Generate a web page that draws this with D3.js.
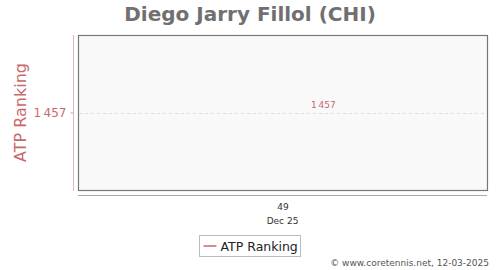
<!doctype html>
<html lang="en">
  <head>
    <meta charset="utf-8">
    <title>Diego Jarry Fillol (CHI)</title>
    <style>
    body { margin: 0; background: #fff; }
    text { font-family: "DejaVu Sans", sans-serif; }
    .y-axis path, .x-axis path { display: none; }
    </style>
  </head>
  <body>
    <div id="content"></div>

    <script src="https://d3js.org/d3.v7.min.js"></script>
    <script type="text/javascript">
    var w = 500;
    var h = 270;

    var playerTitle = 'Diego Jarry Fillol (CHI)';
    var weeks = [49.2];          // ranking week (x position of the point)
    var rankings = [1457];       // ATP ranking values
    var weekTicks = [49];
    var monthLabels = ['Dec 25'];
    var seriesName = 'ATP Ranking';
    var credit = '\u00a9 www.coretennis.net, 12-03-2025';

    var plot = {left: 78, right: 487, top: 35, bottom: 190};
    var red = '#c9686d';

    var fmt = function(d) { return d3.format(',')(d).replace(/,/g, '\u2009'); };

    var svg = d3.select('#content')
                .append('svg')
                .attr('width', w)
                .attr('height', h);

    var xScale = d3.scaleLinear()
                   .domain([48, 50])
                   .range([plot.left, plot.right]);

    var yScale = d3.scaleLinear()
                   .domain([rankings[0] + 1, rankings[0] - 1])
                   .range([plot.bottom, plot.top]);

    // title
    svg.append('text')
      .attr('x', w / 2)
      .attr('y', 21)
      .attr('text-anchor', 'middle')
      .style('font-size', '20px')
      .style('font-weight', 'bold')
      .style('fill', '#707070')
      .text(playerTitle);

    // plot area
    svg.append('rect')
      .attr('x', plot.left + 0.5)
      .attr('y', plot.top + 0.5)
      .attr('width', plot.right - plot.left)
      .attr('height', plot.bottom - plot.top)
      .style('fill', '#f9f9f9')
      .style('stroke', '#777')
      .style('stroke-width', 1.2);

    // grid lines
    svg.append('g')
      .selectAll('line')
      .data(rankings)
      .enter()
      .append('line')
      .attr('x1', plot.left + 1)
      .attr('x2', plot.right)
      .attr('y1', d => Math.round(yScale(d)) + 0.5)
      .attr('y2', d => Math.round(yScale(d)) + 0.5)
      .style('stroke', '#ddd')
      .style('stroke-dasharray', '3,3');

    // y axis
    var yAxis = d3.axisLeft(yScale)
                  .tickValues(rankings)
                  .tickSize(3)
                  .tickPadding(4)
                  .tickFormat(fmt);

    var yG = svg.append('g')
      .attr('class', 'y-axis')
      .attr('transform', 'translate(73.5, 0)')
      .call(yAxis);
    yG.selectAll('text').style('font-size', '12px').style('fill', red).style('font-family', '"DejaVu Sans", sans-serif');
    yG.selectAll('.tick line').style('stroke', '#aaa');
    yG.append('line')
      .attr('y1', plot.top)
      .attr('y2', plot.bottom + 1)
      .style('stroke', '#e2b4b6');

    svg.append('text')
      .attr('transform', 'translate(26,' + ((plot.top + plot.bottom) / 2) + ') rotate(-90)')
      .attr('text-anchor', 'middle')
      .style('font-size', '16px')
      .style('fill', red)
      .text(seriesName);

    // x axis
    var xAxis = d3.axisBottom(xScale)
                  .tickValues(weekTicks)
                  .tickSize(0)
                  .tickPadding(8)
                  .tickFormat(d => d);

    var xG = svg.append('g')
      .attr('class', 'x-axis')
      .attr('transform', 'translate(0, 195.5)')
      .call(xAxis);
    xG.selectAll('text').style('font-size', '9px').style('fill', '#333').style('font-family', '"DejaVu Sans", sans-serif');
    xG.append('line')
      .attr('x1', plot.left)
      .attr('x2', plot.right)
      .style('stroke', '#aaa')
      .style('stroke-width', 1);

    svg.append('g')
      .selectAll('text')
      .data(monthLabels)
      .enter()
      .append('text')
      .attr('x', (d, i) => xScale(weekTicks[i]))
      .attr('y', 224)
      .attr('text-anchor', 'middle')
      .style('font-size', '9px')
      .style('fill', '#333')
      .text(d => d);

    // series
    var line = d3.line()
                 .x((d, i) => xScale(weeks[i]))
                 .y(d => yScale(d));

    svg.append('path')
      .datum(rankings)
      .attr('d', line)
      .style('fill', 'none')
      .style('stroke', red)
      .style('stroke-width', 1.5);

    svg.append('g')
      .selectAll('text')
      .data(rankings)
      .enter()
      .append('text')
      .attr('x', (d, i) => xScale(weeks[i]))
      .attr('y', d => yScale(d) - 5)
      .attr('text-anchor', 'middle')
      .style('font-size', '9px')
      .style('fill', red)
      .text(fmt);

    // legend
    var legend = svg.append('g').attr('transform', 'translate(199.5, 235.5)');
    legend.append('rect')
      .attr('width', 101)
      .attr('height', 21)
      .style('fill', '#fff')
      .style('stroke', '#bbb');
    legend.append('line')
      .attr('x1', 4)
      .attr('x2', 17)
      .attr('y1', 10.5)
      .attr('y2', 10.5)
      .style('stroke', red)
      .style('stroke-width', 1.5);
    legend.append('text')
      .attr('x', 21)
      .attr('y', 15)
      .style('font-size', '12.5px')
      .style('fill', '#222')
      .text(seriesName);

    // credit
    svg.append('text')
      .attr('x', 489)
      .attr('y', 266)
      .attr('text-anchor', 'end')
      .style('font-size', '9px')
      .style('fill', '#555')
      .text(credit);
    </script>
  </body>
</html>
